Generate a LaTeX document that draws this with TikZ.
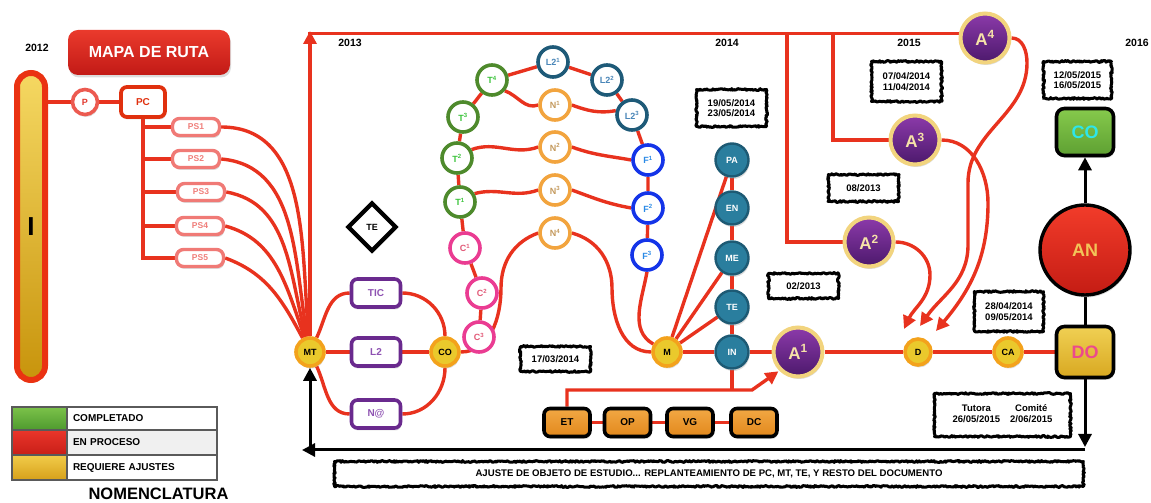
\documentclass[tikz,border=0pt]{standalone}
\usepackage{fontspec}
\setmainfont{Liberation Sans}
\usetikzlibrary{arrows.meta,shapes.geometric,shadows,decorations.pathmorphing,backgrounds}

\newcommand{\sizedbf}[1]{\fontsize{#1}{#1}\selectfont\bfseries}

\definecolor{wirered}{HTML}{E8321E}
\definecolor{barred}{HTML}{EA3212}
\definecolor{goldtop}{HTML}{F5D862}
\definecolor{goldbot}{HTML}{C8940C}
\definecolor{maptop}{HTML}{EA3A2C}
\definecolor{mapbot}{HTML}{C21A16}
\definecolor{ppink}{HTML}{EC5A50}
\definecolor{ptxt}{HTML}{E2382E}
\definecolor{pcred}{HTML}{E0300E}
\definecolor{pslight}{HTML}{F07A76}
\definecolor{pstxt}{HTML}{F07E7A}
\definecolor{yelfill}{HTML}{EAC92C}
\definecolor{yeledge}{HTML}{F3A21C}
\definecolor{tgreen}{HTML}{4E8A2C}
\definecolor{tgreentxt}{HTML}{3CC43C}
\definecolor{lteal}{HTML}{1E5A78}
\definecolor{ltealtxt}{HTML}{4A86B8}
\definecolor{fblue}{HTML}{1434E8}
\definecolor{fbluetxt}{HTML}{2A8AE6}
\definecolor{norange}{HTML}{F2A43E}
\definecolor{norangetxt}{HTML}{C49A5E}
\definecolor{cpink}{HTML}{EA3C92}
\definecolor{cpinktxt}{HTML}{E25A78}
\definecolor{bteal}{HTML}{2A7E9E}
\definecolor{btealedge}{HTML}{1D5A74}
\definecolor{apurtop}{HTML}{8C3AAA}
\definecolor{apurbot}{HTML}{4C196C}
\definecolor{aedge}{HTML}{F2D47E}
\definecolor{atxt}{HTML}{F6E2A8}
\definecolor{violet}{HTML}{6A2A8E}
\definecolor{violettxt}{HTML}{8E52B2}
\definecolor{orgtop}{HTML}{F2A844}
\definecolor{orgbot}{HTML}{E2881C}
\definecolor{antop}{HTML}{F23C2A}
\definecolor{anbot}{HTML}{C41C14}
\definecolor{antxt}{HTML}{F2C458}
\definecolor{cogtop}{HTML}{86CA4C}
\definecolor{cogbot}{HTML}{5EA032}
\definecolor{cotxt}{HTML}{2EE6EA}
\definecolor{dotop}{HTML}{F0D054}
\definecolor{dobot}{HTML}{D8A820}
\definecolor{dotxt}{HTML}{EC4A8C}
\definecolor{leggray}{HTML}{5A5A5A}
\definecolor{lgreentop}{HTML}{7CC24A}
\definecolor{lgreenbot}{HTML}{4E9A2E}
\definecolor{lredtop}{HTML}{EA362A}
\definecolor{lredbot}{HTML}{C81E18}
\definecolor{lgoldtop}{HTML}{F2CC4A}
\definecolor{lgoldbot}{HTML}{D6A01A}

\begin{document}
\begin{tikzpicture}[x=1pt,y=1pt,
  wire/.style={draw=wirered,line width=3.4pt},
  blkwire/.style={draw=black,line width=3pt},
  bigtip/.style={-{Triangle[length=13pt,width=13pt]}},
  softshadow/.style={drop shadow={opacity=0.28,shadow xshift=1pt,shadow yshift=-2.5pt}},
  ring/.style={circle,inner sep=0pt,minimum size=30pt,line width=3.6pt,fill=white,font=\sizedbf{9}},
  tnode/.style={ring,draw=tgreen,text=tgreentxt},
  lnode/.style={ring,draw=lteal,text=ltealtxt},
  fnode/.style={ring,draw=fblue,text=fbluetxt},
  nnode/.style={ring,draw=norange,text=norangetxt},
  cnode/.style={ring,draw=cpink,text=cpinktxt},
  ynode/.style={circle,inner sep=0pt,minimum size=28pt,line width=3.6pt,draw=yeledge,fill=yelfill,font=\sizedbf{9},softshadow},
  bnode/.style={circle,inner sep=0pt,minimum size=33pt,line width=2.4pt,draw=btealedge,fill=bteal,text=white,font=\sizedbf{9},softshadow},
  anode/.style={circle,inner sep=0pt,minimum size=49pt,line width=4pt,draw=aedge,top color=apurtop,bottom color=apurbot,text=atxt,font=\sizedbf{17},softshadow},
  vbox/.style={rectangle,rounded corners=6pt,minimum width=49pt,minimum height=28pt,line width=3.6pt,draw=violet,fill=white,text=violettxt,font=\sizedbf{10},softshadow},
  obox/.style={rectangle,rounded corners=6pt,minimum width=46pt,minimum height=28pt,line width=3.6pt,draw=black,top color=orgtop,bottom color=orgbot,font=\sizedbf{10},softshadow},
  psbox/.style={rectangle,rounded corners=7pt,minimum width=47pt,minimum height=17pt,line width=3.4pt,draw=pslight,fill=white,text=pstxt,font=\sizedbf{8.5},softshadow},
  datebox/.style={rectangle,draw=black,line width=3pt,line join=round,fill=white,decorate,decoration={random steps,segment length=1.2pt,amplitude=0.9pt},align=center,inner sep=0pt,font=\sizedbf{9.5}},
  yearlab/.style={font=\sizedbf{10.5}},
  legcell/.style={rectangle,draw=leggray,line width=2.2pt,inner sep=0pt},
  legtext/.style={legcell,minimum width=150pt,text width=138pt,inner xsep=6pt,align=left,font=\sizedbf{10}},
]
\useasboundingbox (0,0) rectangle (1151,503);

% ---------- year labels ----------
\node[yearlab] (y2012) at (37,455) {2012};
\node[yearlab] (y2013) at (350,460) {2013};
\node[yearlab] (y2014) at (727,460) {2014};
\node[yearlab] (y2015) at (909,460) {2015};
\node[yearlab] (y2016) at (1137,460) {2016};

% ---------- left column ----------
\node[rectangle,rounded corners=10pt,minimum width=162pt,minimum height=45pt,top color=maptop,bottom color=mapbot,text=white,font=\sizedbf{16},softshadow] (map) at (149,450.5) {MAPA DE RUTA};
\node[rectangle,rounded corners=14pt,minimum width=28pt,minimum height=307pt,line width=6pt,draw=barred,top color=goldtop,bottom color=goldbot,softshadow] (bar) at (31,276.5) {};
\node[font=\sizedbf{26}] (barI) at (31,276) {I};
\node[circle,minimum size=25pt,inner sep=0pt,line width=3.6pt,draw=ppink,fill=white,text=ptxt,font=\sizedbf{9},softshadow] (P) at (85,401) {P};
\node[rectangle,rounded corners=6pt,minimum width=44pt,minimum height=30pt,line width=3.8pt,draw=pcred,fill=white,text=pcred,font=\sizedbf{10},softshadow] (PC) at (143,401) {PC};
\node[psbox] (PS1) at (196,376) {PS1};
\node[psbox] (PS2) at (196,344) {PS2};
\node[psbox] (PS3) at (201,311) {PS3};
\node[psbox] (PS4) at (200,277) {PS4};
\node[psbox] (PS5) at (200,245) {PS5};

% ---------- MT loop ----------
\node[ynode] (MT) at (310,151) {MT};
\node[diamond,aspect=1,minimum size=49pt,inner sep=0pt,line width=4.2pt,draw=black,fill=white,font=\sizedbf{9},softshadow] (TEd) at (372,276) {TE};
\node[vbox] (TIC) at (376,210) {TIC};
\node[vbox] (L2) at (376,151) {L2};
\node[vbox] (NA) at (376,89) {N@};
\node[ynode] (COy) at (445,151) {CO};

% ---------- arch of circles ----------
\node[cnode] (C3) at (479,166) {C\textsuperscript{3}};
\node[cnode] (C2) at (482,210) {C\textsuperscript{2}};
\node[cnode] (C1) at (465,255) {C\textsuperscript{1}};
\node[tnode] (T1) at (460,301) {T\textsuperscript{1}};
\node[tnode] (T2) at (457,345) {T\textsuperscript{2}};
\node[tnode] (T3) at (463,386) {T\textsuperscript{3}};
\node[tnode] (T4) at (492,423) {T\textsuperscript{4}};
\node[lnode] (L21) at (553,441) {L2\textsuperscript{1}};
\node[lnode] (L22) at (607,423) {L2\textsuperscript{2}};
\node[lnode] (L23) at (632,388) {L2\textsuperscript{3}};
\node[fnode] (F1) at (648,343) {F\textsuperscript{1}};
\node[fnode] (F2) at (648,295) {F\textsuperscript{2}};
\node[fnode] (F3) at (647,248) {F\textsuperscript{3}};
\node[nnode] (N1) at (555,398) {N\textsuperscript{1}};
\node[nnode] (N2) at (555,356) {N\textsuperscript{2}};
\node[nnode] (N3) at (555,313) {N\textsuperscript{3}};
\node[nnode] (N4) at (555,270) {N\textsuperscript{4}};

% ---------- M and blue column ----------
\node[ynode] (M) at (667,151) {M};
\node[bnode] (PA) at (732,343) {PA};
\node[bnode] (EN) at (732,295) {EN};
\node[bnode] (ME) at (732,245) {ME};
\node[bnode] (TE2) at (732,196) {TE};
\node[bnode] (IN) at (732,151) {IN};

% ---------- orange tasks ----------
\node[obox] (ET) at (567,80.5) {ET};
\node[obox] (OP) at (627.5,80.5) {OP};
\node[obox] (VG) at (690,80.5) {VG};
\node[obox] (DC) at (754,80.5) {DC};

% ---------- articles and final line ----------
\node[anode] (A1) at (798,151) {A\textsuperscript{1}};
\node[anode] (A2) at (869,261) {A\textsuperscript{2}};
\node[anode] (A3) at (915,363) {A\textsuperscript{3}};
\node[anode] (A4) at (985,465) {A\textsuperscript{4}};
\node[ynode,minimum size=26pt] (D) at (918,151) {D};
\node[ynode] (CA) at (1008,151) {CA};
\node[rectangle,rounded corners=8pt,minimum width=57pt,minimum height=51pt,line width=3.6pt,draw=black,top color=dotop,bottom color=dobot,text=dotxt,font=\sizedbf{18},softshadow] (DO) at (1085,151) {DO};
\node[circle,minimum size=90pt,inner sep=0pt,line width=3.4pt,draw=black,top color=antop,bottom color=anbot,text=antxt,font=\sizedbf{18},softshadow] (AN) at (1085,253) {AN};
\node[rectangle,rounded corners=8pt,minimum width=57pt,minimum height=47pt,line width=3.6pt,draw=black,top color=cogtop,bottom color=cogbot,text=cotxt,font=\sizedbf{18},softshadow] (COg) at (1085,371) {CO};

% ---------- date boxes ----------
\node[datebox,minimum width=70pt,minimum height=37pt] (d1) at (731.5,395) {19/05/2014\\[1pt]23/05/2014};
\node[datebox,minimum width=70pt,minimum height=40pt] (d2) at (906.5,421.5) {07/04/2014\\[1pt]11/04/2014};
\node[datebox,minimum width=68pt,minimum height=37pt] (d3) at (1077.5,423) {12/05/2015\\[1pt]16/05/2015};
\node[datebox,minimum width=70pt,minimum height=27pt] (d4) at (863.5,315) {08/2013};
\node[datebox,minimum width=70pt,minimum height=25pt] (d5) at (803.5,217) {02/2013};
\node[datebox,minimum width=70pt,minimum height=25pt] (d6) at (555.5,144) {17/03/2014};
\node[datebox,minimum width=69pt,minimum height=40pt] (d7) at (1009,191.5) {28/04/2014\\[1pt]09/05/2014};
\node[datebox,minimum width=136pt,minimum height=43pt] (d8) at (1002.5,88) {\begin{tabular}{@{}c@{\hspace{10pt}}c@{}}Tutora & Comité\\[1pt] 26/05/2015 & 2/06/2015\end{tabular}};
\node[datebox,minimum width=749pt,minimum height=25pt,font=\sizedbf{9.6}] (note) at (709,29) {AJUSTE DE OBJETO DE ESTUDIO... REPLANTEAMIENTO DE PC, MT, TE, Y RESTO DEL DOCUMENTO};

% ---------- legend ----------
\node[legcell,minimum width=55pt,minimum height=23pt,top color=lgreentop,bottom color=lgreenbot] (lg1) at (39.5,84.5) {};
\node[legtext,minimum height=23pt,fill=white] (lt1) at (142,84.5) {COMPLETADO};
\node[legcell,minimum width=55pt,minimum height=25pt,top color=lredtop,bottom color=lredbot] (lg2) at (39.5,60.5) {};
\node[legtext,minimum height=25pt,fill=black!6] (lt2) at (142,60.5) {EN PROCESO};
\node[legcell,minimum width=55pt,minimum height=25pt,top color=lgoldtop,bottom color=lgoldbot] (lg3) at (39.5,35.5) {};
\node[legtext,minimum height=25pt,fill=white] (lt3) at (142,35.5) {REQUIERE AJUSTES};
\node[font=\sizedbf{16.5}] (nom) at (158.5,9) {NOMENCLATURA};

% ---------- black return path ----------
\coordinate (retR) at (1085,53);
\coordinate (retL) at (MT |- retR);
\draw[blkwire,bigtip] (AN.north) -- (COg.south);
\draw[blkwire,bigtip] (DO.south) -- ([yshift=3pt]retR);
\draw[blkwire,bigtip] (retR) -- ([xshift=-8pt]retL);
\draw[blkwire,bigtip] (retL) -- (MT.south);

% ---------- red connectors ----------
\begin{scope}[on background layer]
  \draw[wire] (bar.east |- P) -- (P) -- (PC);
  \draw[wire] (PC.south) -- (PC.south |- PS5.west) -- (PS5.west);
  \foreach \n in {PS1,PS2,PS3,PS4} \draw[wire] (PC.south |- \n.west) -- (\n.west);
  \draw[wire] (PS1.east) to[out=0,in=95] (MT);
  \draw[wire] (PS2.east) to[out=-5,in=100] (MT);
  \draw[wire] (PS3.east) to[out=-10,in=105] (MT);
  \draw[wire] (PS4.east) to[out=-15,in=110] (MT);
  \draw[wire] (PS5.east) to[out=-20,in=118] (MT);

  \draw[wire,bigtip] (MT.north) -- (310,472);
  \draw[wire] (308.3,469.5) -- (975,469.5);
  \draw[wire] (787,469.5) |- (A2);
  \draw[wire] (833,469.5) |- (A3);

  \draw[wire] (MT) -- (L2) -- (COy);
  \draw[wire] (MT) to[out=65,in=180] (TIC.west);
  \draw[wire] (TIC.east) to[out=0,in=90] (COy);
  \draw[wire] (MT) to[out=-65,in=180] (NA.west);
  \draw[wire] (NA.east) to[out=0,in=-90] (COy);

  \draw[wire] (COy.east) to[out=0,in=-90] (501,215) to[out=90,in=200] (N4.west);
  \draw[wire] (N4.east) to[out=-15,in=90] (612,215) to[out=-90,in=180] (M.west);
  \draw[wire] (F3.south) to[out=-100,in=150] (M);

  \draw[wire] (C3) -- (C2) -- (C1) -- (T1) -- (T2) -- (T3) -- (T4) -- (L21) -- (L22) -- (L23) -- (F1) -- (F2) -- (F3);
  \draw[wire] (T4.-40) to[out=-20,in=200] (N1.west);
  \draw[wire] (N1.east) to[out=-20,in=190] (L23.165);
  \draw[wire] (T2.30) to[out=20,in=200] (N2.west);
  \draw[wire] (N2.east) to[out=-20,in=170] (F1.west);
  \draw[wire] (T1.30) to[out=15,in=200] (N3.west);
  \draw[wire] (N3.east) to[out=-20,in=170] (F2.west);

  \draw[wire] (M) -- (PA);
  \draw[wire] (M) -- (ME);
  \draw[wire] (M) -- (TE2);
  \draw[wire] (M) -- (IN);
  \draw[wire] (PA) -- (EN) -- (ME) -- (TE2) -- (IN);
  \draw[wire] (IN) -- (A1) -- (D) -- (CA) -- (DO);
  \draw[wire] (IN) -- (IN |- 0,113);
  \draw[wire] (ET) -- (OP) -- (VG) -- (DC);
  \draw[wire,bigtip,shorten >=1pt] (ET.north) |- (752,113) -- (A1.225);

  \draw[wire,bigtip] (A2.east) to[out=0,in=90] (930,228) to[out=-90,in=65] (904,174);
  \draw[wire,bigtip] (A4.east) to[out=0,in=90] (1027,440) to[out=-90,in=90] (968,320) -- (968,258) to[out=-90,in=55] (920,177);
  \draw[wire,bigtip] (A3.east) to[out=0,in=90] (988,300) to[out=-90,in=50] (936,172);

  \draw[blkwire] (DO) -- (AN);
\end{scope}
\end{tikzpicture}
\end{document}
